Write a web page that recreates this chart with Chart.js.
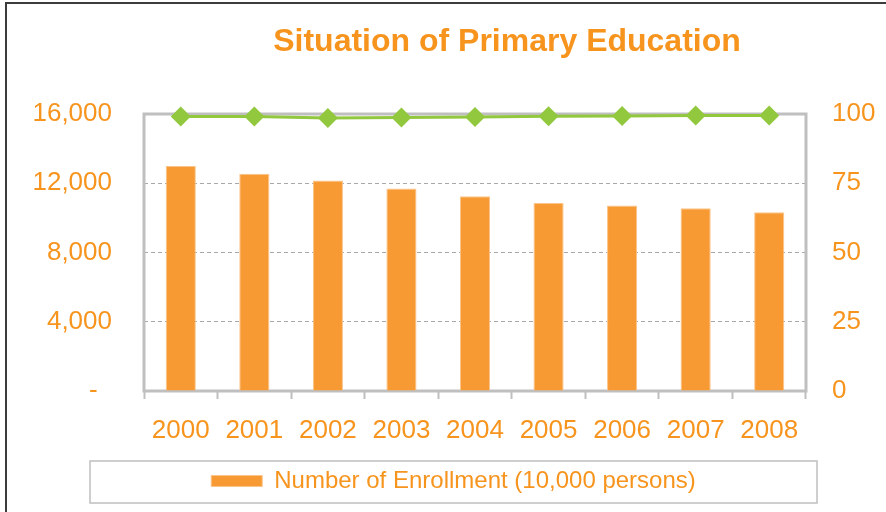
<!DOCTYPE html>
<html>
<head>
<meta charset="utf-8">
<script src="https://cdn.jsdelivr.net/npm/chart.js@4.4.0/dist/chart.umd.min.js"></script>
<style>
  html, body { margin: 0; padding: 0; background: #fff; }
</style>
</head>
<body>
<canvas id="chart1" width="886" height="512"></canvas>
<script>
// data
const years = ['2000', '2001', '2002', '2003', '2004', '2005', '2006', '2007', '2008'];
const enrollment = [13000, 12550, 12160, 11690, 11250, 10860, 10710, 10560, 10330];
const enrollRate = [99.1, 99.1, 98.6, 98.7, 98.9, 99.2, 99.3, 99.5, 99.5];
const leftTicks = ['-  ', '4,000', '8,000', '12,000', '16,000'];
const rightTicks = ['0', '25', '50', '75', '100'];

const orange = '#F7941E';
const barOrange = '#F89A33';
const green = '#92C83E';
const frameGrey = '#BFBFBF';
const font = 'Liberation Sans, Arial, sans-serif';

const framePlugin = {
  id: 'frame',
  afterLayout(chart) {
    // title sits right of centre, legend box spans 90..817
    chart.titleBlock.left = 128;
    chart.legend.left = 90;
    chart.legend.right = 817;
  },
  beforeDraw(chart) {
    const ctx = chart.ctx;
    ctx.save();
    ctx.strokeStyle = '#3c3c3c';
    ctx.lineWidth = 2;
    ctx.strokeRect(6, 3, 1000, 1000);
    const lg = chart.legend;
    ctx.strokeStyle = frameGrey;
    ctx.lineWidth = 1.5;
    ctx.strokeRect(lg.left, lg.top + 1, lg.right - lg.left, 42);
    ctx.restore();
  },
  beforeDatasetsDraw(chart) {
    const a = chart.chartArea;
    const ctx = chart.ctx;
    ctx.save();
    ctx.strokeStyle = frameGrey;
    ctx.lineWidth = 3;
    ctx.strokeRect(a.left, a.top, a.right - a.left, a.bottom - a.top);
    ctx.restore();
  }
};

new Chart(document.getElementById('chart1'), {
  type: 'bar',
  data: {
    labels: years,
    datasets: [{
      label: 'Number of Enrollment (10,000 persons)',
      data: enrollment,
      backgroundColor: barOrange,
      borderColor: '#FBC48A',
      borderWidth: 1,
      barPercentage: 0.41,
      categoryPercentage: 1,
      yAxisID: 'y',
      order: 2
    }, {
      type: 'line',
      label: 'Enrollment rate',
      data: enrollRate,
      borderColor: green,
      backgroundColor: green,
      borderWidth: 3,
      pointStyle: 'rectRot',
      pointRadius: 10,
      pointBorderWidth: 0,
      tension: 0,
      clip: false,
      yAxisID: 'y1',
      order: 1
    }]
  },
  options: {
    responsive: false,
    animation: false,
    layout: { padding: { top: 23, left: 0, right: 0, bottom: 9 } },
    plugins: {
      title: {
        display: true,
        text: 'Situation of Primary Education',
        color: orange,
        font: { family: font, size: 32, weight: 'bold' },
        padding: { top: 0, bottom: 52.6 }
      },
      legend: {
        position: 'bottom',
        labels: {
          color: orange,
          font: { family: font, size: 24 },
          boxWidth: 51,
          boxHeight: 11,
          padding: 9,
          filter: item => item.datasetIndex === 0
        }
      },
      tooltip: { enabled: false }
    },
    scales: {
      x: {
        afterFit: s => { s.height = 69; },
        border: { display: false },
        grid: {
          drawOnChartArea: false,
          drawTicks: true,
          tickLength: 8,
          tickColor: frameGrey,
          tickWidth: 2
        },
        ticks: {
          color: orange,
          font: { family: font, size: 26 },
          padding: 16,
          maxRotation: 0
        }
      },
      y: {
        position: 'left',
        min: 0,
        max: 16000,
        afterFit: s => { s.width = 144; },
        border: { display: false, dash: [4, 3] },
        grid: { color: '#A8A8A8', lineWidth: 1, drawTicks: false },
        ticks: {
          stepSize: 4000,
          color: orange,
          font: { family: font, size: 26 },
          padding: 32,
          callback: (v, i) => leftTicks[i]
        }
      },
      y1: {
        position: 'right',
        min: 0,
        max: 100,
        afterFit: s => { s.width = 80; },
        border: { display: false },
        grid: { drawOnChartArea: false, drawTicks: false },
        ticks: {
          stepSize: 25,
          color: orange,
          font: { family: font, size: 26 },
          padding: 26,
          callback: (v, i) => rightTicks[i]
        }
      }
    }
  },
  plugins: [framePlugin]
});
</script>
</body>
</html>
